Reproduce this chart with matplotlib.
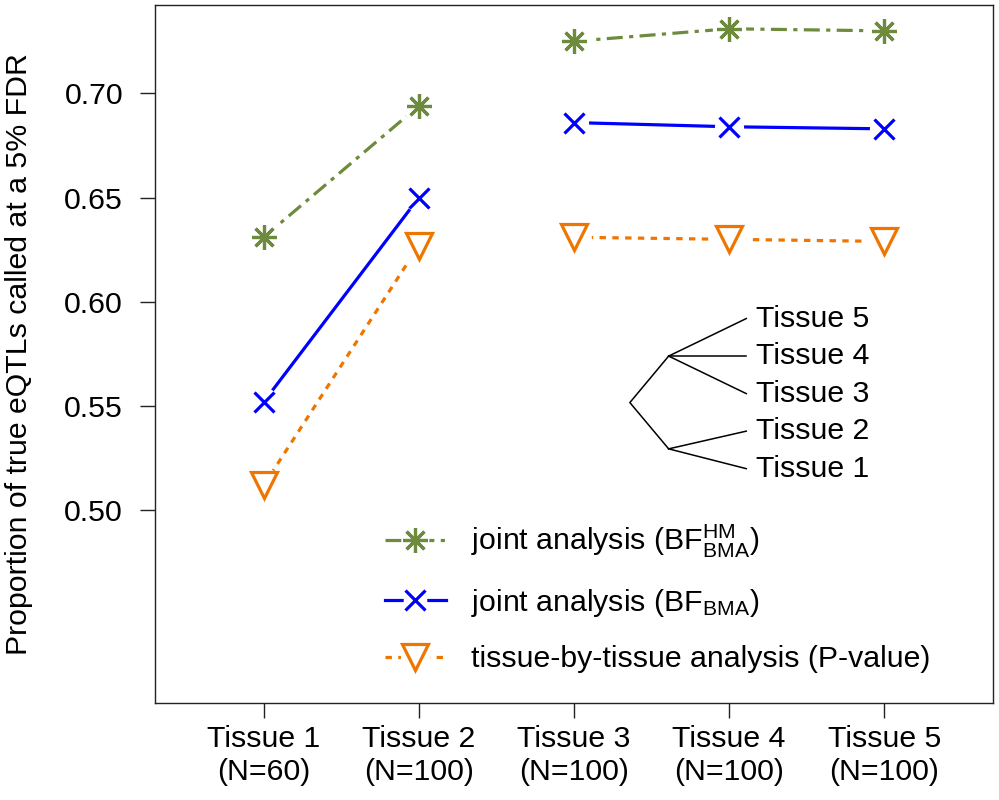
import numpy as np
import matplotlib
matplotlib.use("Agg")
from matplotlib import pyplot as plt
from matplotlib.lines import Line2D
from matplotlib.legend_handler import HandlerTuple

plt.rcParams['font.family'] = ['Liberation Sans', 'DejaVu Sans']
plt.rcParams['mathtext.fontset'] = 'custom'
plt.rcParams['mathtext.rm'] = 'Liberation Sans'
plt.rcParams['mathtext.it'] = 'Liberation Sans'

tissues = [1, 2, 3, 4, 5]
tick_labels = ["Tissue 1\n(N=60)", "Tissue 2\n(N=100)", "Tissue 3\n(N=100)",
               "Tissue 4\n(N=100)", "Tissue 5\n(N=100)"]
bf_hm = [0.631, 0.694, 0.725, 0.731, 0.730]
bf_bma = [0.552, 0.650, 0.686, 0.684, 0.683]
pval = [0.512, 0.627, 0.631, 0.630, 0.629]

# dendrogram shown inside the plot (data coords)
dendro_leaves = ["Tissue 5", "Tissue 4", "Tissue 3", "Tissue 2", "Tissue 1"]
leaf_y = [0.592, 0.574, 0.556, 0.538, 0.520]

green = "#6E8B3D"
blue = "#0000FF"
orange = "#EE7600"
FS = 21.8

fig = plt.figure(figsize=(9.99, 8.0), dpi=100)
ax = fig.add_axes([155/999, 1 - 703/800, (993-155)/999, (703-5)/800])

series = [
    (bf_hm, green, (0, (5, 2, 1.3, 2)), (8, 2, 0), 18, r"joint analysis (BF$^{\mathrm{HM}}_{\mathrm{BMA}}$)"),
    (bf_bma, blue, "-", "x", 15, r"joint analysis (BF$_{\mathrm{BMA}}$)"),
    (pval, orange, (0, (2, 2)), "v", 19, "tissue-by-tissue analysis (P-value)"),
]

# lines are split between tissue 2 and 3
segs = [slice(0, 2), slice(2, 5)]
handles = []
labels = []
for vals, col, ls, mk, ms, lab in series:
    x = np.array(tissues)
    y = np.array(vals)
    for s in segs:
        ax.plot(x[s], y[s], color=col, lw=2.3, ls=ls, zorder=2)
    # white gaps around points, like R type="b"
    ax.plot(x, y, ls="none", marker="o", ms=ms + 6, mfc="white", mec="none", zorder=3)
    if mk == "v":
        ax.plot(x, y, ls="none", marker=mk, ms=ms, mfc="none", mec=col, mew=2.3, zorder=4)
    else:
        ax.plot(x, y, ls="none", marker=mk, ms=ms, mec=col, mew=2.3, zorder=4)
    h_line = Line2D([], [], color=col, lw=2.3, ls=ls)
    h_gap = Line2D([], [], ls="none", marker="o", ms=ms + 2, mfc="white", mec="none")
    if mk == "v":
        h_mk = Line2D([], [], ls="none", marker=mk, ms=ms, mfc="none", mec=col, mew=2.3)
    else:
        h_mk = Line2D([], [], ls="none", marker=mk, ms=ms, mec=col, mew=2.3)
    handles.append((h_line, h_gap, h_mk))
    labels.append(lab)

# dendrogram
root = (3.36, 0.5517)
upper = (3.61, 0.574)
lower = (3.61, 0.5295)
leaf_x = 4.11
ax.plot([upper[0], root[0], lower[0]], [upper[1], root[1], lower[1]], color="black", lw=1.1)
for i, (name, ly) in enumerate(zip(dendro_leaves, leaf_y)):
    node = upper if i < 3 else lower
    ax.plot([node[0], leaf_x], [node[1], ly], color="black", lw=1.1)
    ax.text(leaf_x + 0.06, ly, name, fontsize=FS, va="center", ha="left")

ax.set_xlim(0.3, 5.7)
ax.set_ylim(0.4076, 0.7424)
ax.set_xticks(tissues)
ax.set_xticklabels(tick_labels, fontsize=FS, linespacing=1.2)
ax.set_yticks([0.50, 0.55, 0.60, 0.65, 0.70])
ax.set_yticklabels(["0.50", "0.55", "0.60", "0.65", "0.70"], fontsize=FS)
ax.tick_params(axis="both", direction="out", length=11, width=1.0, color="#222222")
ax.tick_params(axis="x", pad=5)
ax.tick_params(axis="y", pad=12)
for sp in ax.spines.values():
    sp.set_linewidth(1.0)
    sp.set_color("#222222")
ax.set_ylabel("Proportion of true eQTLs called at a 5% FDR", fontsize=FS)
ax.yaxis.set_label_coords(-0.146, 0.5)

ax.legend(handles, labels, handler_map={tuple: HandlerTuple(ndivide=1)},
          loc="upper left", bbox_to_anchor=((385-155)/838, 1 - (523-5)/698),
          frameon=False, fontsize=FS, handlelength=2.0, handletextpad=0.85,
          labelspacing=0.88, borderpad=0, borderaxespad=0)

fig.savefig("out.png", dpi=100)
